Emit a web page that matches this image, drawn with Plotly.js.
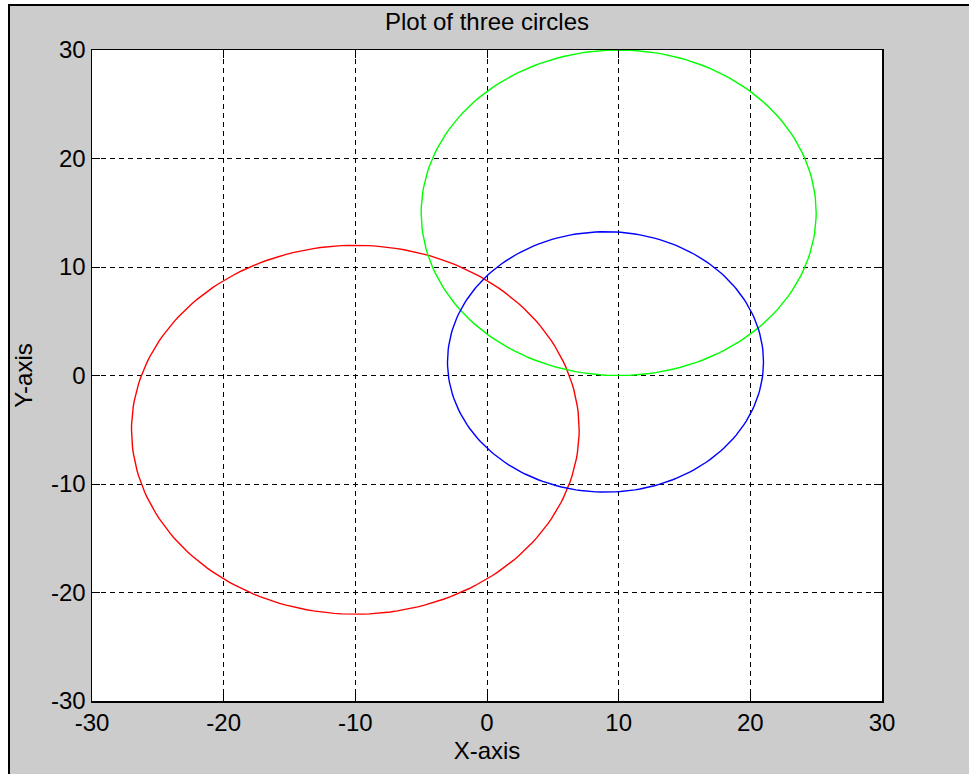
<!DOCTYPE html>
<html>
<head>
<meta charset="utf-8">
<script src="https://cdn.plot.ly/plotly-3.0.1.min.js"></script>
<style>
  html, body { margin: 0; padding: 0; background: #ffffff; width: 969px; height: 774px; overflow: hidden; }
  #frame { position: absolute; left: 8px; top: 4px; width: 961px; height: 770px;
           box-sizing: border-box; border-left: 2px solid #000; border-top: 2px solid #000; background: #cccccc; }
  #chart { width: 959px; height: 768px; }
</style>
</head>
<body>
<div id="frame"><div id="chart"></div></div>
<script>
// Circle data
const circleNames = ['Circle 1', 'Circle 2', 'Circle 3'];
const centerX = [-10, 10, 9];
const centerY = [-5, 15, 1.25];
const radius = [17, 15, 12];
const lineColors = ['#ff0000', '#00ff00', '#0000ff'];

const xTicks = [-30, -20, -10, 0, 10, 20, 30];
const yTicks = [-30, -20, -10, 0, 10, 20, 30];

const N = 200;
const traces = circleNames.map((name, i) => {
  const xs = [], ys = [];
  for (let k = 0; k <= N; k++) {
    const t = 2 * Math.PI * k / N;
    xs.push(centerX[i] + radius[i] * Math.cos(t));
    ys.push(centerY[i] + radius[i] * Math.sin(t));
  }
  return { type: 'scatter', mode: 'lines', name: name, x: xs, y: ys,
           line: { color: lineColors[i], width: 1.4 }, hoverinfo: 'skip' };
});

const fontFamily = '"Liberation Sans", Arial, sans-serif';
const axisCommon = {
  showline: true, linecolor: '#000', linewidth: 1.5, mirror: 'ticks',
  ticks: 'inside', ticklen: 8, tickwidth: 1, tickcolor: '#000',
  showgrid: true, gridcolor: '#000', gridwidth: 1, griddash: '5px,4px',
  zeroline: false, tickfont: { family: fontFamily, size: 24, color: '#000' },
  tickmode: 'array'
};

const layout = {
  width: 959, height: 768,
  margin: { l: 82, r: 87, t: 44, b: 73, pad: 0 },
  paper_bgcolor: '#cccccc', plot_bgcolor: '#ffffff',
  showlegend: false,
  font: { family: fontFamily, color: '#000' },
  title: { text: 'Plot of three circles', font: { family: fontFamily, size: 24, color: '#000' },
           xref: 'paper', x: 0.5, xanchor: 'center', yref: 'container', y: 1 - 16 / 768, yanchor: 'middle' },
  xaxis: Object.assign({}, axisCommon, {
    range: [-30, 30], tickvals: xTicks, ticktext: xTicks.map(String),
    title: { text: 'X-axis', font: { family: fontFamily, size: 24, color: '#000' }, standoff: 7 }
  }),
  yaxis: Object.assign({}, axisCommon, {
    range: [-30, 30], tickvals: yTicks, ticktext: yTicks.map(String),
    title: { text: 'Y-axis', font: { family: fontFamily, size: 24, color: '#000' }, standoff: 24 }
  })
};

Plotly.newPlot('chart', traces, layout, { displayModeBar: false, staticPlot: true });
</script>
</body>
</html>
